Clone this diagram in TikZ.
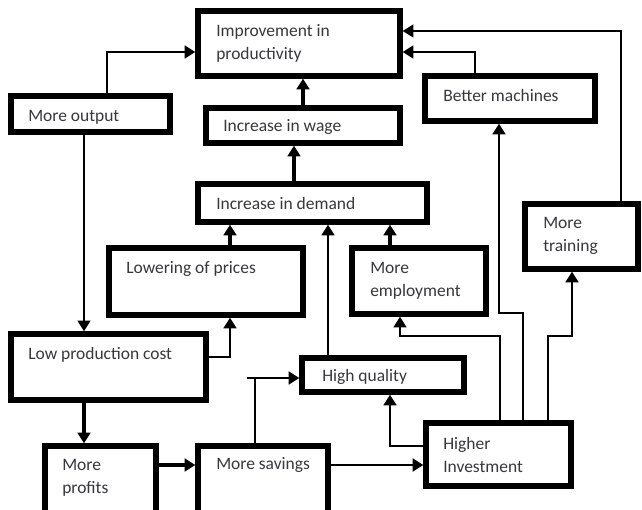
\documentclass[tikz,border=0pt]{standalone}
\usepackage{fontspec}
\setmainfont{Carlito}
\usetikzlibrary{fit,arrows.meta}
\definecolor{txt}{RGB}{55,55,60}
\tikzset{
  box/.style={draw=black, line width=4pt, inner sep=0pt, fill=none},
  lbl/.style={anchor=west, inner sep=0pt, text=txt, font=\fontsize{13.1}{17.3}\selectfont, align=left},
  tip/.style={-{Triangle[length=8pt,width=9.5pt]}},
  thk/.style={line width=3pt, tip},
  med/.style={line width=2pt, tip},
  thn/.style={line width=1.6pt, tip},
  seg/.style={line width=1.6pt}
}
\begin{document}
\begin{tikzpicture}[x=0.75pt,y=-0.75pt]
\clip (0,0) rectangle (642,510);
\fill[white] (0,0) rectangle (642,510);
% boxes
\node[box, fit={(198,11) (400,76)}] (impr) {};
\node[box, fit={(11,96) (170,132)}] (output) {};
\node[box, fit={(206,108) (400,143)}] (wage) {};
\node[box, fit={(425,76) (595,121)}] (machines) {};
\node[box, fit={(198,184) (427,222)}] (demand) {};
\node[box, fit={(109,248) (303,315)}] (prices) {};
\node[box, fit={(352,248) (486,314)}] (employ) {};
\node[box, fit={(525,204) (638,269)}] (training) {};
\node[box, fit={(11,334) (206,400)}] (lowcost) {};
\node[box, fit={(302,358) (464,392)}] (quality) {};
\node[box, fit={(426,423) (571,486)}] (invest) {};
\node[box, fit={(45,446) (156,522)}] (profits) {};
\node[box, fit={(198,446) (328,522)}] (savings) {};
% labels
\node[lbl] (t-impr) at (216,43.5) {Improvement in\\productivity};
\node[lbl] (t-output) at (28,117) {More output};
\node[lbl] (t-wage) at (223,127) {Increase in wage};
\node[lbl] (t-machines) at (443,95) {Better machines};
\node[lbl] (t-demand) at (216,203) {Increase in demand};
\node[lbl] (t-prices) at (126,269) {Lowering of prices};
\node[lbl] (t-employ) at (370,281) {More\\employment};
\node[lbl] (t-training) at (543,235.5) {More\\training};
\node[lbl] (t-lowcost) at (28,355) {Low production cost};
\node[lbl] (t-quality) at (322,377) {High quality};
\node[lbl] (t-invest) at (443,455) {Higher\\Investment};
\node[lbl] (t-profits) at (62,477.5) {More\\profits};
\node[lbl] (t-savings) at (216,465) {More savings};
% helper coordinates
\coordinate (sq) at (255,378);
\coordinate (sqs) at (247,378);
% connectors
\draw[med] (output.north -| 107,0) |- (impr.west |- 0,52);
\draw[thn] (output.south -| 84,0) -- (lowcost.north -| 84,0);
\draw[thk] (wage.north -| 303,0) -- (impr.south -| 303,0);
\draw[thk] (demand.north -| 294,0) -- (wage.south -| 294,0);
\draw[med] (machines.north -| 475,0) |- (impr.east |- 0,52);
\draw[thn] (training.north -| 621,0) |- (impr.east |- 0,31);
\draw[thk] (prices.north -| 230,0) -- (demand.south -| 230,0);
\draw[thk] (employ.north -| 390,0) -- (demand.south -| 390,0);
\draw[med] (quality.north -| 328,0) -- (demand.south -| 328,0);
\draw[med] (lowcost.east |- 0,357) -| (prices.south -| 230,0);
\draw[thk] (lowcost.south -| 84,0) -- (profits.north -| 84,0);
\draw[thk] (profits.east |- 0,465) -- (savings.west |- 0,465);
\draw[seg] (savings.north -| 255,0) -- (sq);
\draw[med] (sqs) -- (quality.west |- 0,378);
\draw[med] (savings.east |- 0,465) -- (invest.west |- 0,465);
\draw[med] (invest.west |- 0,446) -| (quality.south -| 390,0);
\draw[thn] (invest.north -| 500,0) -- (500,336) -- (400,336) -- (employ.south -| 400,0);
\draw[med] (invest.north -| 523,0) -- (523,313) -- (499,313) -- (machines.south -| 499,0);
\draw[med] (invest.north -| 548,0) -- (548,336) -- (572,336) -- (training.south -| 572,0);
\end{tikzpicture}
\end{document}
